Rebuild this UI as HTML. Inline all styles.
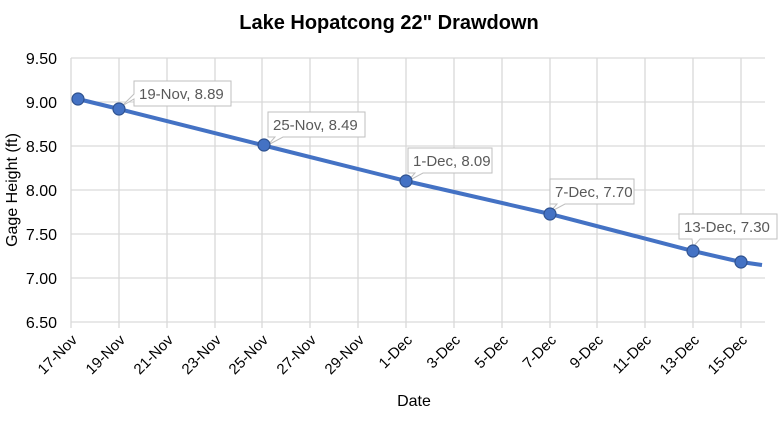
<!DOCTYPE html>
<html><head><style>body{margin:0;background:#fff}svg{display:block;font-family:"Liberation Sans",sans-serif}</style></head>
<body>
<svg width="778" height="421" xmlns="http://www.w3.org/2000/svg">
<rect width="778" height="421" fill="#fff"/>
<text x="389" y="29" text-anchor="middle" font-size="20" font-weight="bold" fill="#000">Lake Hopatcong 22" Drawdown</text>
<g stroke="#d9d9d9" stroke-width="1.3">
<line x1="71" y1="58" x2="765" y2="58"/><line x1="71" y1="102" x2="765" y2="102"/><line x1="71" y1="146" x2="765" y2="146"/><line x1="71" y1="190" x2="765" y2="190"/><line x1="71" y1="234" x2="765" y2="234"/><line x1="71" y1="278" x2="765" y2="278"/><line x1="71" y1="322" x2="765" y2="322"/>
<line x1="71" y1="58" x2="71" y2="328"/><line x1="119" y1="58" x2="119" y2="328"/><line x1="167" y1="58" x2="167" y2="328"/><line x1="215" y1="58" x2="215" y2="328"/><line x1="262" y1="58" x2="262" y2="328"/><line x1="310" y1="58" x2="310" y2="328"/><line x1="358" y1="58" x2="358" y2="328"/><line x1="406" y1="58" x2="406" y2="328"/><line x1="454" y1="58" x2="454" y2="328"/><line x1="502" y1="58" x2="502" y2="328"/><line x1="550" y1="58" x2="550" y2="328"/><line x1="597" y1="58" x2="597" y2="328"/><line x1="645" y1="58" x2="645" y2="328"/><line x1="693" y1="58" x2="693" y2="328"/><line x1="741" y1="58" x2="741" y2="328"/>
</g>
<g font-size="16" fill="#000" text-anchor="end">
<text x="57" y="64">9.50</text><text x="57" y="108">9.00</text><text x="57" y="152">8.50</text><text x="57" y="196">8.00</text><text x="57" y="240">7.50</text><text x="57" y="284">7.00</text><text x="57" y="328">6.50</text>
</g>
<g font-size="15" fill="#000" text-anchor="end">
<text transform="translate(78,341) rotate(-45)">17-Nov</text><text transform="translate(126,341) rotate(-45)">19-Nov</text><text transform="translate(174,341) rotate(-45)">21-Nov</text><text transform="translate(222,341) rotate(-45)">23-Nov</text><text transform="translate(269,341) rotate(-45)">25-Nov</text><text transform="translate(317,341) rotate(-45)">27-Nov</text><text transform="translate(365,341) rotate(-45)">29-Nov</text><text transform="translate(413,341) rotate(-45)">1-Dec</text><text transform="translate(461,341) rotate(-45)">3-Dec</text><text transform="translate(509,341) rotate(-45)">5-Dec</text><text transform="translate(557,341) rotate(-45)">7-Dec</text><text transform="translate(604,341) rotate(-45)">9-Dec</text><text transform="translate(652,341) rotate(-45)">11-Dec</text><text transform="translate(700,341) rotate(-45)">13-Dec</text><text transform="translate(748,341) rotate(-45)">15-Dec</text>
</g>
<text x="414" y="406" text-anchor="middle" font-size="16">Date</text>
<text transform="translate(17,190) rotate(-90)" text-anchor="middle" font-size="16">Gage Height (ft)</text>
<g fill="#fff" stroke="#bfbfbf" stroke-width="1">
<path d="M134,81H231V106H134V99L122,106L134,94Z"/>
<path d="M268,112H365V137H283L268,145L275,137H268Z"/>
<path d="M408,148H492V173H423L408,181L415,173H408Z"/>
<path d="M550,179H634V204H565L550,212L557,204H550Z"/>
<path d="M679,214H777V239H700L693,247L692,239H679Z"/>
</g>
<g font-size="15" fill="#595959">
<text x="139" y="99">19-Nov, 8.89</text><text x="273" y="130">25-Nov, 8.49</text><text x="413" y="166">1-Dec, 8.09</text><text x="555" y="197">7-Dec, 7.70</text><text x="684" y="232">13-Dec, 7.30</text>
</g>
<polyline points="78,99 119,109 262,145 406,181 550,214 693,251 741,262 762,265" fill="none" stroke="#4472c4" stroke-width="4"/>
<g fill="#4472c4" stroke="#2f528f" stroke-width="1.2">
<circle cx="78" cy="99" r="6"/><circle cx="119" cy="109" r="6"/><circle cx="264" cy="145" r="6"/><circle cx="406" cy="181" r="6"/><circle cx="550" cy="214" r="6"/><circle cx="693" cy="251" r="6"/><circle cx="741" cy="262" r="6"/>
</g>
</svg>
</body></html>
